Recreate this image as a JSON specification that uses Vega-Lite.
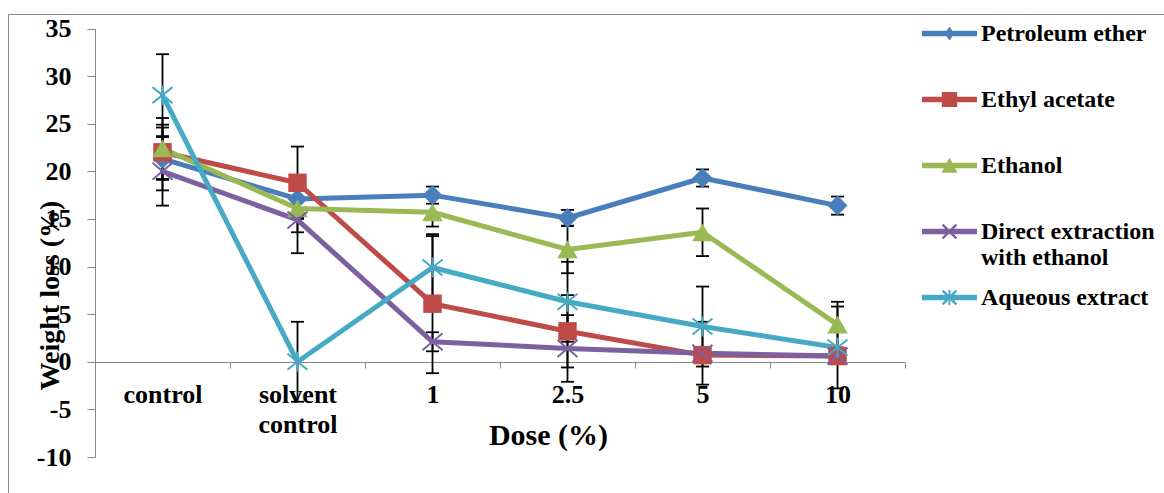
{
  "$schema": "https://vega.github.io/schema/vega-lite/v6.json",
  "width": 1158,
  "height": 481,
  "autosize": {"type": "none"},
  "padding": {"left": 8, "top": 14, "right": -2, "bottom": -2},
  "background": "white",
  "config": {
    "font": "Liberation Serif, Times New Roman, serif",
    "view": {"stroke": "#868686", "strokeWidth": 1},
    "axis": {
      "labelFont": "Liberation Serif, Times New Roman, serif", "labelFontWeight": "bold", "labelColor": "black", "labelFontSize": 26,
      "titleFont": "Liberation Serif, Times New Roman, serif", "titleFontWeight": "bold", "titleColor": "black",
      "domainColor": "#868686", "tickColor": "#868686", "grid": false
    }
  },
  "data": {"values": [
    {"series": "Petroleum ether", "dose": "control", "loss": 21.3, "lo": 18.0, "hi": 24.6},
    {"series": "Petroleum ether", "dose": "solvent control", "loss": 17.1, "lo": 15.1, "hi": 19.1},
    {"series": "Petroleum ether", "dose": "1", "loss": 17.5, "lo": 16.6, "hi": 18.4},
    {"series": "Petroleum ether", "dose": "2.5", "loss": 15.1, "lo": 14.25, "hi": 15.95},
    {"series": "Petroleum ether", "dose": "5", "loss": 19.3, "lo": 18.4, "hi": 20.2},
    {"series": "Petroleum ether", "dose": "10", "loss": 16.4, "lo": 15.45, "hi": 17.35},
    {"series": "Ethyl acetate", "dose": "control", "loss": 22.0, "lo": 19.1, "hi": 24.9},
    {"series": "Ethyl acetate", "dose": "solvent control", "loss": 18.8, "lo": 15.0, "hi": 22.6},
    {"series": "Ethyl acetate", "dose": "1", "loss": 6.1, "lo": -1.2, "hi": 13.4},
    {"series": "Ethyl acetate", "dose": "2.5", "loss": 3.2, "lo": -0.6, "hi": 7.0},
    {"series": "Ethyl acetate", "dose": "5", "loss": 0.7, "lo": 0.2, "hi": 1.2},
    {"series": "Ethyl acetate", "dose": "10", "loss": 0.6, "lo": 0.2, "hi": 1.0},
    {"series": "Ethanol", "dose": "control", "loss": 22.4, "lo": 19.2, "hi": 25.6},
    {"series": "Ethanol", "dose": "solvent control", "loss": 16.1, "lo": 13.6, "hi": 18.6},
    {"series": "Ethanol", "dose": "1", "loss": 15.7, "lo": 14.2, "hi": 17.2},
    {"series": "Ethanol", "dose": "2.5", "loss": 11.8, "lo": 9.3, "hi": 14.3},
    {"series": "Ethanol", "dose": "5", "loss": 13.6, "lo": 11.1, "hi": 16.1},
    {"series": "Ethanol", "dose": "10", "loss": 3.9, "lo": 1.5, "hi": 6.3},
    {"series": "Direct extraction with ethanol", "dose": "control", "loss": 20.0, "lo": 16.4, "hi": 23.6},
    {"series": "Direct extraction with ethanol", "dose": "solvent control", "loss": 14.9, "lo": 11.4, "hi": 18.4},
    {"series": "Direct extraction with ethanol", "dose": "1", "loss": 2.1, "lo": 1.1, "hi": 3.1},
    {"series": "Direct extraction with ethanol", "dose": "2.5", "loss": 1.4, "lo": -2.1, "hi": 4.9},
    {"series": "Direct extraction with ethanol", "dose": "5", "loss": 0.9, "lo": -2.4, "hi": 4.2},
    {"series": "Direct extraction with ethanol", "dose": "10", "loss": 0.6, "lo": 0.1, "hi": 1.1},
    {"series": "Aqueous extract", "dose": "control", "loss": 28.0, "lo": 23.7, "hi": 32.3},
    {"series": "Aqueous extract", "dose": "solvent control", "loss": 0.0, "lo": -4.2, "hi": 4.2},
    {"series": "Aqueous extract", "dose": "1", "loss": 9.9, "lo": 6.6, "hi": 13.2},
    {"series": "Aqueous extract", "dose": "2.5", "loss": 6.3, "lo": 2.1, "hi": 10.5},
    {"series": "Aqueous extract", "dose": "5", "loss": 3.7, "lo": -0.5, "hi": 7.9},
    {"series": "Aqueous extract", "dose": "10", "loss": 1.5, "lo": -2.8, "hi": 5.8}
  ]},
  "encoding": {
    "x": {
      "field": "dose", "type": "nominal",
      "sort": ["control", "solvent control", "1", "2.5", "5", "10"],
      "scale": {"domain": ["control", "solvent control", "1", "2.5", "5", "10"], "range": [87, 897], "paddingInner": 0, "paddingOuter": 0},
      "axis": {
        "title": "Dose (%)", "titleFontSize": 30, "titleX": 540, "titleY": 73, "titleAlign": "center", "titleBaseline": "middle", "titleAngle": 0,
        "offset": -133, "tickBand": "extent", "tickSize": 6, "labelPadding": 13, "labelAngle": 0, "labelLineHeight": 30,
        "labelExpr": "datum.label == 'solvent control' ? ['solvent', 'control'] : datum.label"
      }
    }
  },
  "layer": [
    {
      "mark": {"type": "rule", "color": "black", "strokeWidth": 1.8},
      "encoding": {
        "y": {"field": "lo", "type": "quantitative", "scale": {"domain": [-10, 35], "range": [443, 14.5], "nice": false, "zero": false},
          "axis": {"title": "Weight loss (%)", "titleFontSize": 28, "titleX": -45, "titleY": 281, "titleAngle": -90, "titleAlign": "center", "titleBaseline": "middle",
            "offset": -87, "values": [-10, -5, 0, 5, 10, 15, 20, 25, 30, 35], "labelExpr": "'' + datum.value", "tickSize": 8, "labelPadding": 16}},
        "y2": {"field": "hi"}
      }
    },
    {
      "mark": {"type": "tick", "color": "black", "thickness": 1.8, "size": 13, "opacity": 1},
      "encoding": {"y": {"field": "lo", "type": "quantitative", "scale": {"domain": [-10, 35], "range": [443, 14.5], "nice": false, "zero": false}}}
    },
    {
      "mark": {"type": "tick", "color": "black", "thickness": 1.8, "size": 13, "opacity": 1},
      "encoding": {"y": {"field": "hi", "type": "quantitative", "scale": {"domain": [-10, 35], "range": [443, 14.5], "nice": false, "zero": false}}}
    },
    {
      "mark": {"type": "point", "filled": true, "size": 0, "opacity": 1, "strokeWidth": 0},
      "encoding": {
        "y": {"field": "loss", "type": "quantitative", "scale": {"domain": [-10, 35], "range": [443, 14.5], "nice": false, "zero": false}},
        "color": {
          "field": "series", "type": "nominal",
          "scale": {"domain": ["Petroleum ether", "Ethyl acetate", "Ethanol", "Direct extraction with ethanol", "Aqueous extract"],
                    "range": ["#4A7EBB", "#BE4B48", "#98B954", "#7D60A0", "#46AAC5"]},
          "legend": {
            "title": null, "orient": "none", "legendX": 914, "legendY": -8, "padding": 0, "direction": "vertical",
            "symbolSize": 3025, "symbolStrokeWidth": 0, "symbolOpacity": 1,
            "labelFont": "Liberation Serif, Times New Roman, serif", "labelFontSize": 24, "labelFontWeight": "bold", "labelColor": "black",
            "labelOffset": 4, "labelLimit": 400, "labelLineHeight": 28, "rowPadding": 0,
            "labelExpr": "datum.label == 'Direct extraction with ethanol' ? ['Direct extraction', 'with ethanol'] : [datum.label, ' ']"
          }
        },
        "shape": {
          "field": "series", "type": "nominal",
          "scale": {"domain": ["Petroleum ether", "Ethyl acetate", "Ethanol", "Direct extraction with ethanol", "Aqueous extract"],
                    "range": [
                      "M-1,-0.1L1,-0.1L1,0.1L-1,0.1ZM0,-0.25L0.18,0L0,0.25L-0.18,0Z",
                      "M-1,-0.1L1,-0.1L1,0.1L-1,0.1ZM-0.28,-0.27L0.28,-0.27L0.28,0.27L-0.28,0.27Z",
                      "M-1,-0.1L1,-0.1L1,0.1L-1,0.1ZM0,-0.29L0.29,0.26L-0.29,0.26Z",
                      "M-1,-0.1L1,-0.1L1,0.1L-1,0.1ZM-0.22,-0.28L0.28,0.22L0.22,0.28L-0.28,-0.22ZM0.22,-0.28L0.28,-0.22L-0.22,0.28L-0.28,0.22Z",
                      "M-1,-0.1L1,-0.1L1,0.1L-1,0.1ZM-0.22,-0.28L0.28,0.22L0.22,0.28L-0.28,-0.22ZM0.22,-0.28L0.28,-0.22L-0.22,0.28L-0.28,0.22ZM-0.035,-0.27L0.035,-0.27L0.035,0.27L-0.035,0.27Z"
                    ]}
        }
      }
    },
    {
      "mark": {"type": "line", "strokeWidth": 5, "strokeJoin": "round", "strokeCap": "round"},
      "encoding": {
        "y": {"field": "loss", "type": "quantitative", "scale": {"domain": [-10, 35], "range": [443, 14.5], "nice": false, "zero": false}},
        "color": {"field": "series", "type": "nominal"}
      }
    },
    {
      "transform": [{"filter": {"field": "series", "equal": "Petroleum ether"}}],
      "mark": {"type": "point", "shape": "diamond", "filled": true, "color": "#4A7EBB", "size": 400, "opacity": 1},
      "encoding": {"y": {"field": "loss", "type": "quantitative", "scale": {"domain": [-10, 35], "range": [443, 14.5], "nice": false, "zero": false}}}
    },
    {
      "transform": [{"filter": {"field": "series", "equal": "Ethyl acetate"}}],
      "mark": {"type": "point", "shape": "square", "filled": true, "color": "#BE4B48", "size": 340, "opacity": 1},
      "encoding": {"y": {"field": "loss", "type": "quantitative", "scale": {"domain": [-10, 35], "range": [443, 14.5], "nice": false, "zero": false}}}
    },
    {
      "transform": [{"filter": {"field": "series", "equal": "Ethanol"}}],
      "mark": {"type": "point", "shape": "triangle-up", "filled": true, "color": "#98B954", "size": 420, "opacity": 1},
      "encoding": {"y": {"field": "loss", "type": "quantitative", "scale": {"domain": [-10, 35], "range": [443, 14.5], "nice": false, "zero": false}}}
    },
    {
      "transform": [{"filter": {"field": "series", "equal": "Direct extraction with ethanol"}}],
      "mark": {"type": "point", "shape": "M-1,-0.85L1,0.85M-1,0.85L1,-0.85", "filled": false, "color": "#7D60A0", "size": 400, "strokeWidth": 2, "opacity": 1},
      "encoding": {"y": {"field": "loss", "type": "quantitative", "scale": {"domain": [-10, 35], "range": [443, 14.5], "nice": false, "zero": false}}}
    },
    {
      "transform": [{"filter": {"field": "series", "equal": "Aqueous extract"}}],
      "mark": {"type": "point", "shape": "M-1,-0.8L1,0.8M-1,0.8L1,-0.8M0,-1L0,1", "filled": false, "color": "#46AAC5", "size": 400, "strokeWidth": 2, "opacity": 1},
      "encoding": {"y": {"field": "loss", "type": "quantitative", "scale": {"domain": [-10, 35], "range": [443, 14.5], "nice": false, "zero": false}}}
    }
  ]
}
